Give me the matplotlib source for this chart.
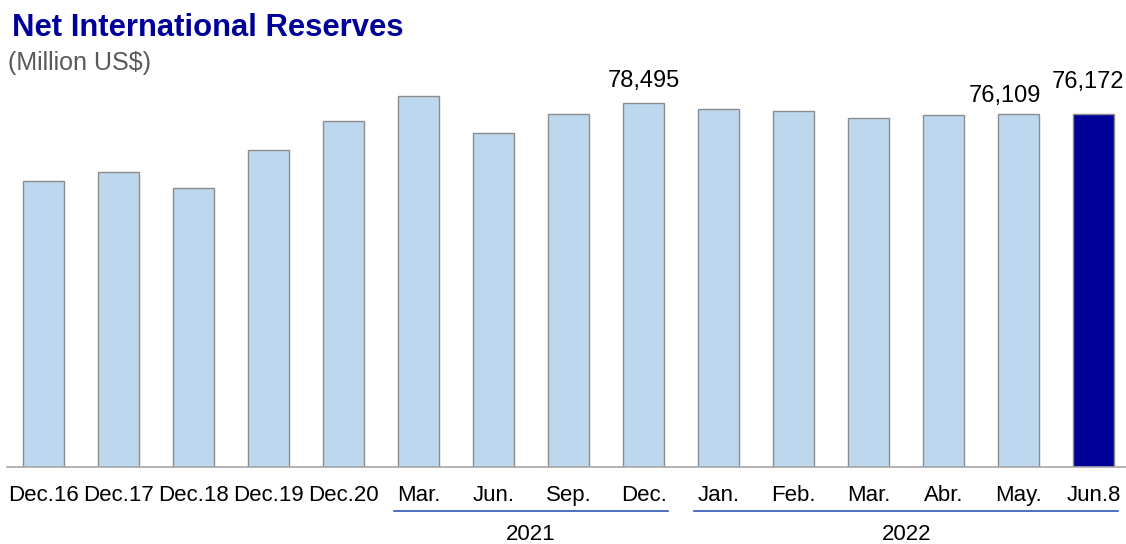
import numpy as np
import matplotlib.pyplot as plt

plt.rcParams['font.family'] = ['Liberation Sans', 'DejaVu Sans']

# Net international reserves, million US$
labels = ['Dec.16', 'Dec.17', 'Dec.18', 'Dec.19', 'Dec.20',
          'Mar.', 'Jun.', 'Sep.', 'Dec.',
          'Jan.', 'Feb.', 'Mar.', 'Abr.', 'May.', 'Jun.8']
values = [61686, 63621, 60121, 68316, 74707,
          80000, 72020, 76120, 78495,
          77200, 76900, 75390, 75970, 76109, 76172]
years = ['2021', '2022']
year_spans = [(5, 8), (9, 14)]
shown_values = [8, 13, 14]

light = '#BDD7EE'
navy = '#000099'

fig = plt.figure(figsize=(11.26, 5.44), dpi=100)
ax = fig.add_axes([7 / 1126, 77 / 544, 1119 / 1126, 390 / 544])

x = np.arange(len(values))
colors = [light] * (len(values) - 1) + [navy]
ax.bar(x, values, width=0.547, color=colors, edgecolor='#8C8C8C', linewidth=1.0, zorder=2)

ax.set_xlim(-0.487, 14.43)
ax.set_ylim(0, 84170)

for s in ['top', 'right', 'left']:
    ax.spines[s].set_visible(False)
ax.spines['bottom'].set_color('#A6A6A6')
ax.spines['bottom'].set_linewidth(1.2)
ax.set_yticks([])
ax.set_xticks(x)
ax.set_xticklabels(labels, fontsize=16)
ax.tick_params(axis='x', length=0, pad=13)

# value labels (the last two are nudged apart, as in the original)
offsets = {8: (0, 8), 13: (-10, 5), 14: (-4, 15)}
for i in shown_values:
    ax.annotate(f'{values[i]:,}', (x[i], values[i]), xytext=offsets[i],
                textcoords='offset points', ha='center', va='bottom', fontsize=17,
                annotation_clip=False)

# year groups below the month labels
tr = ax.get_xaxis_transform()
for yr, (a, b) in zip(years, year_spans):
    ax.plot([a - 0.33, b + 0.32], [-0.114, -0.114], color='#2F55B5', lw=1.2,
            transform=tr, clip_on=False)
    ax.text((a + b) / 2, -0.172, yr, transform=tr, ha='center', va='center', fontsize=16)

fig.text(12 / 1126, 1 - 28 / 544, 'Net International Reserves', color=navy,
         fontsize=22.3, fontweight='bold', va='center', ha='left')
fig.text(8 / 1126, 1 - 63 / 544, '(Million US$)', color='#595959',
         fontsize=18, va='center', ha='left')

fig.savefig('out.png', dpi=100)
